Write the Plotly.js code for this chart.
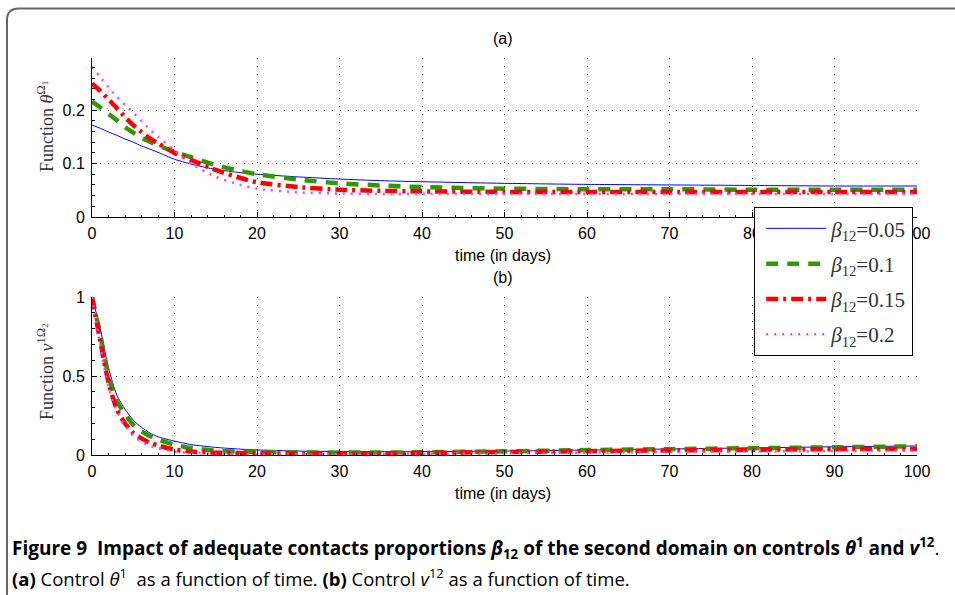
<!DOCTYPE html>
<html>
<head>
<meta charset="utf-8">
<script src="https://cdn.plot.ly/plotly-3.0.1.min.js"></script>
<style>
  html, body { margin: 0; padding: 0; background: #fff; }
  #chart { width: 955px; height: 595px; }
</style>
</head>
<body>
<div id="chart"></div>
<script>
// ---- data ----
var time = [0, 1, 2, 3, 4, 5, 6, 7, 8, 10, 12, 15, 18, 20, 25, 30, 35, 40, 50, 60, 70, 80, 90, 100];

var seriesNames = ['<i>β</i><sub>12</sub>=0.05', '<i>β</i><sub>12</sub>=0.1', '<i>β</i><sub>12</sub>=0.15', '<i>β</i><sub>12</sub>=0.2'];

// (a) control theta^1 on domain Omega_1
var thetaB005 = [0.172, 0.166, 0.159, 0.153, 0.146, 0.140, 0.133, 0.127, 0.121, 0.108, 0.099, 0.089, 0.083, 0.080, 0.075, 0.071, 0.068, 0.066, 0.063, 0.061, 0.060, 0.059, 0.058, 0.058];
var thetaB01  = [0.216, 0.205, 0.193, 0.181, 0.168, 0.158, 0.148, 0.141, 0.134, 0.122, 0.112, 0.097, 0.086, 0.080, 0.070, 0.063, 0.059, 0.056, 0.053, 0.052, 0.052, 0.051, 0.051, 0.051];
var thetaB015 = [0.250, 0.236, 0.220, 0.204, 0.187, 0.172, 0.159, 0.147, 0.138, 0.120, 0.107, 0.088, 0.073, 0.065, 0.056, 0.051, 0.049, 0.048, 0.047, 0.047, 0.047, 0.047, 0.047, 0.047];
var thetaB02  = [0.281, 0.262, 0.243, 0.225, 0.210, 0.195, 0.180, 0.164, 0.150, 0.125, 0.100, 0.075, 0.060, 0.053, 0.046, 0.044, 0.043, 0.043, 0.043, 0.043, 0.043, 0.043, 0.043, 0.043];

// (b) control v^12 on domain Omega_2
var vB005 = [1.0, 0.80, 0.55, 0.38, 0.29, 0.22, 0.175, 0.14, 0.115, 0.088, 0.066, 0.048, 0.037, 0.032, 0.025, 0.022, 0.021, 0.021, 0.025, 0.031, 0.038, 0.045, 0.052, 0.057];
var vB01  = [1.0, 0.76, 0.50, 0.34, 0.26, 0.19, 0.15, 0.12, 0.098, 0.065, 0.044, 0.028, 0.021, 0.019, 0.016, 0.015, 0.016, 0.017, 0.023, 0.031, 0.037, 0.043, 0.049, 0.055];
var vB015 = [1.0, 0.72, 0.46, 0.29, 0.20, 0.14, 0.105, 0.078, 0.060, 0.034, 0.022, 0.015, 0.012, 0.011, 0.009, 0.008, 0.010, 0.013, 0.019, 0.024, 0.029, 0.033, 0.037, 0.038];
var vB02  = [1.0, 0.70, 0.43, 0.28, 0.19, 0.12, 0.085, 0.058, 0.042, 0.022, 0.014, 0.009, 0.007, 0.006, 0.005, 0.005, 0.006, 0.008, 0.012, 0.015, 0.019, 0.022, 0.025, 0.027];

var xTicks = [0, 10, 20, 30, 40, 50, 60, 70, 80, 90, 100];
var yTicksA = [0, 0.1, 0.2];
var yTicksB = [0, 0.5, 1];

// ---- styles ----
var W = 955, H = 595;
function px(x) { return x / W; }
function py(y) { return 1 - y / H; }

var styles = [
  { color: '#0000ff', width: 1, dash: 'solid' },
  { color: '#2f9a00', width: 4.5, dash: '12px,9px' },
  { color: '#ff0000', width: 4.5, dash: '12px,5px,3px,5px' },
  { color: '#ff3cff', width: 2.5, dash: '2px,6px' }
];

var topData = [thetaB005, thetaB01, thetaB015, thetaB02];
var botData = [vB005, vB01, vB015, vB02];

var traces = [];
topData.forEach(function (ys, i) {
  traces.push({
    x: time, y: ys, xaxis: 'x', yaxis: 'y', type: 'scatter', mode: 'lines',
    name: seriesNames[i], legendgroup: 'g' + i, showlegend: true,
    line: { color: styles[i].color, width: styles[i].width, dash: styles[i].dash, shape: 'spline', smoothing: 0.6 },
    hoverinfo: 'skip'
  });
});
botData.forEach(function (ys, i) {
  traces.push({
    x: time, y: ys, xaxis: 'x2', yaxis: 'y2', type: 'scatter', mode: 'lines',
    name: seriesNames[i], legendgroup: 'g' + i, showlegend: false,
    line: { color: styles[i].color, width: styles[i].width, dash: styles[i].dash, shape: 'spline', smoothing: 0.6 },
    hoverinfo: 'skip'
  });
});

var tickFont = { family: 'Liberation Sans, Arial, sans-serif', size: 16, color: '#000' };
var gridDash = '1px,7px';

function xAxis(anchor) {
  return {
    domain: [px(92), px(917)], anchor: anchor, range: [0, 100],
    tickvals: xTicks, ticks: 'inside', ticklen: 5, tickcolor: '#000', tickwidth: 1,
    minor: { dtick: 2, ticks: 'inside', ticklen: 2.5, tickcolor: '#000', showgrid: false },
    showline: true, linecolor: '#000', linewidth: 1, mirror: false,
    showgrid: true, gridcolor: '#000', gridwidth: 1, griddash: gridDash,
    zeroline: false, tickfont: tickFont, ticklabelstandoff: 2, fixedrange: true
  };
}
function yAxis(anchor, dom, rng, tv, minorD) {
  return {
    domain: dom, anchor: anchor, range: rng,
    tickvals: tv, ticks: 'inside', ticklen: 5, tickcolor: '#000', tickwidth: 1,
    minor: { dtick: minorD, ticks: 'inside', ticklen: 2.5, tickcolor: '#000', showgrid: false },
    showline: true, linecolor: '#000', linewidth: 1, mirror: false,
    showgrid: true, gridcolor: '#000', gridwidth: 1, griddash: gridDash,
    zeroline: false, tickfont: tickFont, ticklabelstandoff: 3, fixedrange: true
  };
}

var serif = 'Liberation Serif, DejaVu Serif, serif';
var sans = 'Liberation Sans, Arial, sans-serif';
var capFont = 'Open Sans, sans-serif';

function ann(text, x, y, font, extra) {
  var a = { text: text, x: px(x), y: py(y), xref: 'paper', yref: 'paper', xanchor: 'center', yanchor: 'middle', showarrow: false, font: font };
  if (extra) for (var k in extra) a[k] = extra[k];
  return a;
}

var annotations = [
  ann('(a)', 503, 38, { family: sans, size: 16, color: '#000' }),
  ann('(b)', 503, 277, { family: sans, size: 16, color: '#000' }),
  ann('time (in days)', 503, 255, { family: sans, size: 16, color: '#000' }),
  ann('time (in days)', 503, 493, { family: sans, size: 16, color: '#000' }),
  ann('Function <i>θ</i><sup>Ω<sub>1</sub></sup>', 45, 127, { family: serif, size: 18, color: '#333' }, { textangle: -90 }),
  ann('Function <i>v</i><sup>1Ω<sub>2</sub></sup>', 45, 372, { family: serif, size: 18, color: '#333' }, { textangle: -90 }),
  ann('<b>Figure 9  Impact of adequate contacts proportions <i>β</i><sub>12</sub> of the second domain on controls <i>θ</i><sup>1</sup> and <i>v</i><sup>12</sup></b>.',
    10, 548, { family: capFont, size: 19, color: '#000' }, { xanchor: 'left' }),
  ann('<b>(a)</b> Control <i>θ</i><sup>1</sup>  as a function of time. <b>(b)</b> Control <i>v</i><sup>12</sup> as a function of time.',
    10, 577, { family: capFont, size: 18.5, color: '#000' }, { xanchor: 'left' })
];

var framePath = 'M ' + px(7) + ',' + py(600) + ' L ' + px(7) + ',' + py(20) +
  ' Q ' + px(7) + ',' + py(8.5) + ' ' + px(19) + ',' + py(8.5) + ' L ' + px(960) + ',' + py(8.5);

var layout = {
  width: W, height: H,
  margin: { l: 0, r: 0, t: 0, b: 0 },
  paper_bgcolor: '#fff', plot_bgcolor: 'rgba(0,0,0,0)',
  showlegend: true,
  legend: {
    x: px(754), y: py(207), xanchor: 'left', yanchor: 'top', xref: 'paper', yref: 'paper',
    bgcolor: '#fff', bordercolor: '#000', borderwidth: 1.2,
    font: { family: serif, size: 21, color: '#333' },
    itemwidth: 60, tracegroupgap: 5, traceorder: 'grouped', indentation: 6
  },
  xaxis: xAxis('y'),
  yaxis: yAxis('x', [py(217), py(58)], [0, 0.2975], yTicksA, 0.02),
  xaxis2: xAxis('y2'),
  yaxis2: yAxis('x2', [py(455), py(297)], [0, 1], yTicksB, 0.1),
  annotations: annotations,
  shapes: [
    { type: 'path', path: framePath, xref: 'paper', yref: 'paper', line: { color: '#666', width: 2 } }
  ]
};

Plotly.newPlot('chart', traces, layout, { staticPlot: true, displayModeBar: false });
</script>
</body>
</html>
